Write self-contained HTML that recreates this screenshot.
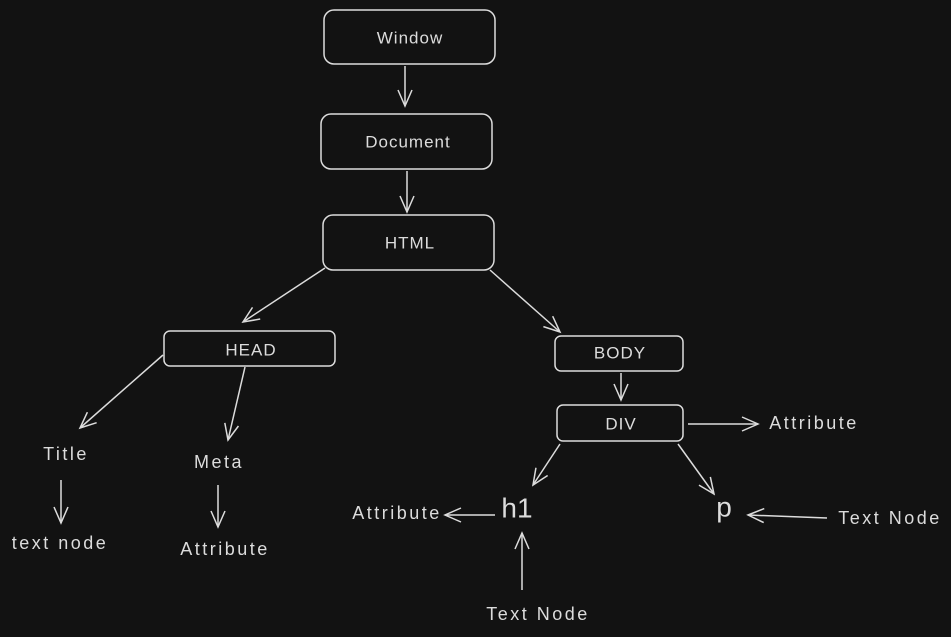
<!DOCTYPE html>
<html><head><meta charset="utf-8"><style>
html,body{margin:0;padding:0;background:#121212;}
svg{display:block}
text{font-family:"Liberation Sans",sans-serif;fill:#dcdcdc;font-size:18px;letter-spacing:2.5px;text-anchor:middle;dominant-baseline:middle}
text.b{font-size:17px;letter-spacing:1px}
</style></head><body>
<svg width="951" height="637" viewBox="0 0 951 637" xmlns="http://www.w3.org/2000/svg">
<rect width="951" height="637" fill="#121212"/>
<defs>
<marker id="a" viewBox="0 0 20 20" refX="18" refY="10" markerWidth="20" markerHeight="20" markerUnits="userSpaceOnUse" orient="auto">
<path d="M2 3 L18 10 L2 17" fill="none" stroke="#dcdcdc" stroke-width="1.5"/>
</marker>
</defs>
<g fill="none" stroke="#dcdcdc" stroke-width="1.5">
<rect x="324" y="10" width="171" height="54" rx="10"/>
<rect x="321" y="114" width="171" height="55" rx="10"/>
<rect x="323" y="215" width="171" height="55" rx="10"/>
<rect x="164" y="331" width="171" height="35" rx="6"/>
<rect x="555" y="336" width="128" height="35" rx="6"/>
<rect x="557" y="405" width="126" height="36" rx="6"/>
<g marker-end="url(#a)">
<line x1="405" y1="66" x2="405" y2="106"/>
<line x1="407" y1="171" x2="407" y2="212"/>
<line x1="325" y1="268" x2="243" y2="322"/>
<line x1="490" y1="270" x2="560" y2="332"/>
<line x1="163" y1="355" x2="80" y2="428"/>
<line x1="245" y1="367" x2="228" y2="440"/>
<line x1="61" y1="480" x2="61" y2="523"/>
<line x1="218" y1="485" x2="218" y2="527"/>
<line x1="621" y1="373" x2="621" y2="400"/>
<line x1="688" y1="424" x2="758" y2="424"/>
<line x1="560" y1="444" x2="533" y2="485"/>
<line x1="678" y1="444" x2="714" y2="494"/>
<line x1="495" y1="515" x2="445" y2="515"/>
<line x1="522" y1="590" x2="522" y2="533"/>
<line x1="827" y1="518" x2="748" y2="515"/>
</g>
</g>
<text class="b" x="410" y="39">Window</text>
<text class="b" x="408" y="143">Document</text>
<text class="b" x="410" y="244">HTML</text>
<text class="b" x="251" y="351">HEAD</text>
<text class="b" x="620" y="354">BODY</text>
<text class="b" x="621" y="425">DIV</text>
<text x="66" y="455">Title</text>
<text x="219" y="463">Meta</text>
<text x="60" y="544">text node</text>
<text x="225" y="550">Attribute</text>
<text x="814" y="424">Attribute</text>
<text x="397" y="514">Attribute</text>
<text x="517" y="510" style="font-size:28px;letter-spacing:0">h1</text>
<text x="724" y="509" style="font-size:28px;letter-spacing:0">p</text>
<text x="890" y="519">Text Node</text>
<text x="538" y="615">Text Node</text>
</svg>
</body></html>
